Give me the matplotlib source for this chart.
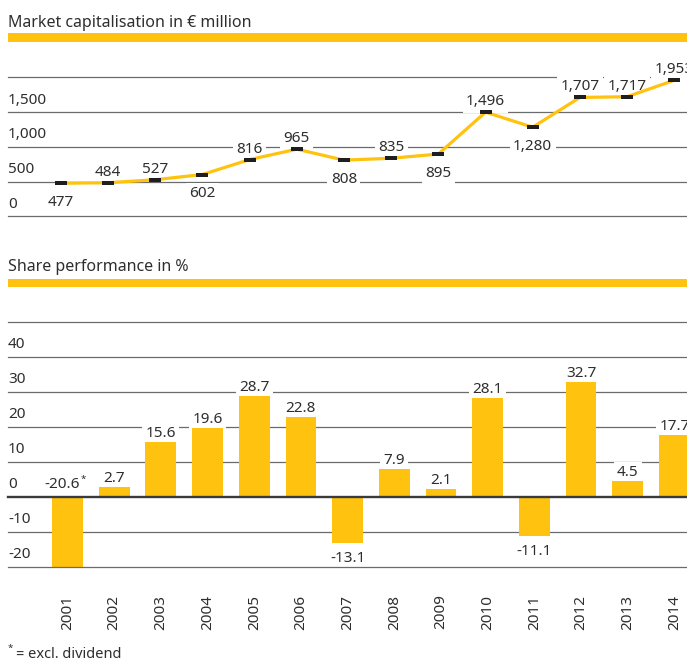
import numpy as np
import matplotlib
matplotlib.use("Agg")
import matplotlib.pyplot as plt
from matplotlib.patches import Rectangle
from matplotlib.path import Path
from matplotlib.transforms import blended_transform_factory

plt.rcParams['font.family'] = ['Noto Sans', 'DejaVu Sans']

# ---- data -------------------------------------------------------------
years = [2001, 2002, 2003, 2004, 2005, 2006, 2007,
         2008, 2009, 2010, 2011, 2012, 2013, 2014]
market_cap = [477, 484, 527, 602, 816, 965, 808,
              835, 895, 1496, 1280, 1707, 1717, 1953]
cap_label_side = ['below', 'above', 'above', 'below', 'above', 'above', 'below',
                  'above', 'below', 'above', 'below', 'above', 'above', 'above']
cap_ticks = [0, 500, 1000, 1500]
cap_top = 2000

share_perf = [-20.6, 2.7, 15.6, 19.6, 28.7, 22.8, -13.1,
              7.9, 2.1, 28.1, -11.1, 32.7, 4.5, 17.7]
perf_ticks = [-20, -10, 0, 10, 20, 30, 40]
perf_top = 50

# ---- layout helpers (pixel -> figure fraction) ------------------------
W, H = 687, 663
fig = plt.figure(figsize=(W / 100, H / 100), dpi=100)


def fx(px):
    return px / W


def fy(py):
    return 1 - py / H


YELLOW = '#FFC20E'
TEXT = '#2e2e2e'
GRID = '#6b6b6b'
MARK = '#1e1e1e'
FS = 11
label_box = dict(boxstyle='square,pad=0.22', fc='white', ec='none')

# ---- section headings ---------------------------------------------------
fig.text(fx(8), fy(27), 'Market capitalisation in € million',
         fontsize=11.5, color=TEXT, va='baseline', ha='left')
fig.add_artist(Rectangle((fx(8), fy(42)), 1 - fx(8), 9 / H,
                         transform=fig.transFigure, color=YELLOW, lw=0))
fig.text(fx(8), fy(271), 'Share performance in %',
         fontsize=11.5, color=TEXT, va='baseline', ha='left')
fig.add_artist(Rectangle((fx(8), fy(287)), 1 - fx(8), 8 / H,
                         transform=fig.transFigure, color=YELLOW, lw=0))

x = np.arange(len(years))

# ---- market capitalisation line chart ----------------------------------
ax1 = fig.add_axes([fx(8), fy(216.5), 1 - fx(8), 139.5 / H])
ax1.axis('off')
ax1.set_xlim(-1.12, 13.27)
ax1.set_ylim(0, cap_top)

for v in cap_ticks + [cap_top]:
    ax1.axhline(v, color=GRID, lw=0.9, zorder=1, clip_on=False)
for v in cap_ticks:
    ax1.annotate(f'{v:,}', xy=(0, v), xycoords=('axes fraction', 'data'),
                 xytext=(0, 6), textcoords='offset points',
                 ha='left', va='baseline', fontsize=FS, color=TEXT)

# value labels knock out the grid lines but stay under the line and markers
for xi, v, side in zip(x, market_cap, cap_label_side):
    dy = 5 if side == 'above' else -16.5
    ax1.annotate(f'{v:,}', xy=(xi, v), xytext=(0, dy), textcoords='offset points',
                 ha='center', va='baseline', fontsize=FS, color=TEXT,
                 bbox=label_box, zorder=2)

ax1.plot(x, market_cap, color=YELLOW, lw=2.3, zorder=3, clip_on=False)
dash = Path([(-1, -0.36), (1, -0.36), (1, 0.36), (-1, 0.36), (-1, -0.36)],
            [Path.MOVETO, Path.LINETO, Path.LINETO, Path.LINETO, Path.CLOSEPOLY])
ax1.plot(x, market_cap, ls='none', marker=dash, ms=8, mew=0,
         color=MARK, zorder=4, clip_on=False)

# ---- share performance bar chart ---------------------------------------
ax2 = fig.add_axes([fx(8), fy(566.7), 1 - fx(8), 245 / H])
ax2.axis('off')
ax2.set_xlim(-1.275, 13.27)
ax2.set_ylim(perf_ticks[0], perf_top)

for v in perf_ticks + [perf_top]:
    if v == 0:
        ax2.axhline(v, color='#3a3a3a', lw=1.7, zorder=4, clip_on=False)
    else:
        ax2.axhline(v, color=GRID, lw=0.9, zorder=4 if v == perf_ticks[0] else 1,
                    clip_on=False)
for v in perf_ticks:
    ax2.annotate(f'{v}', xy=(0, v), xycoords=('axes fraction', 'data'),
                 xytext=(0, 6), textcoords='offset points',
                 ha='left', va='baseline', fontsize=FS, color=TEXT)

ax2.bar(x, share_perf, width=0.66, color=YELLOW, zorder=3)

for xi, v, yr in zip(x, share_perf, years):
    if yr == 2001:
        # dividend-adjusted footnote marker, label sits above the zero line
        ax2.annotate(f'{v}', xy=(xi, 0), xytext=(9, 6.3), textcoords='offset points',
                     ha='right', va='baseline', fontsize=FS, color=TEXT, zorder=5)
        ax2.annotate('*', xy=(xi, 0), xytext=(9.6, 10.5), textcoords='offset points',
                     ha='left', va='baseline', fontsize=7, color=TEXT, zorder=5)
        continue
    if v >= 0:
        ax2.annotate(f'{v}', xy=(xi, v), xytext=(0, 3.5), textcoords='offset points',
                     ha='center', va='baseline', fontsize=FS, color=TEXT,
                     bbox=label_box, zorder=2)
    else:
        ax2.annotate(f'{v}', xy=(xi, v), xytext=(0, -13.8), textcoords='offset points',
                     ha='center', va='baseline', fontsize=FS, color=TEXT, zorder=2)

yr_tr = blended_transform_factory(ax2.transData, fig.transFigure)
for xi, yr in zip(x, years):
    ax2.text(xi, fy(612), str(yr), transform=yr_tr, rotation=90,
             ha='center', va='center', fontsize=FS, color=TEXT)

# ---- footnote ------------------------------------------------------------
fig.text(fx(8), fy(651), '*', fontsize=7, color=TEXT, ha='left', va='baseline')
fig.text(fx(16), fy(658), '= excl. dividend', fontsize=10.5, color=TEXT,
         ha='left', va='baseline')

fig.savefig('out.png', dpi=100)
